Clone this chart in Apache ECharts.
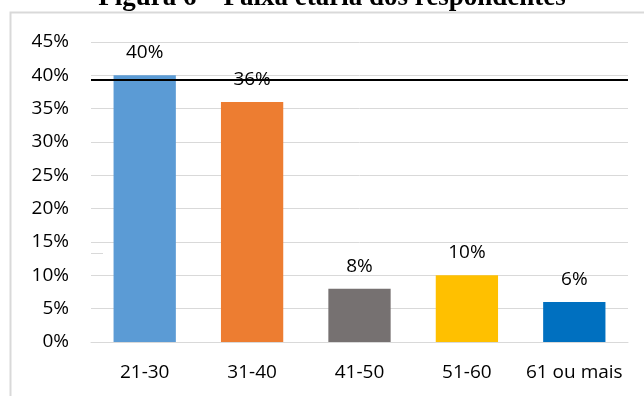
<!DOCTYPE html>
<html>
<head>
<meta charset="utf-8">
<script src="https://cdn.jsdelivr.net/npm/echarts@6/dist/echarts.min.js"></script>
<style>
  html, body { margin: 0; padding: 0; background: #fff; }
  #chart { width: 644px; height: 396px; }
</style>
</head>
<body>
<div id="chart"></div>
<script>
// faixas etarias e percentuais
const categories = ["21-30", "31-40", "41-50", "51-60", "61 ou mais"];
const values = [40, 36, 8, 10, 6];
const barColors = ["#5B9BD5", "#ED7D31", "#767171", "#FFC000", "#0070C0"];
const yTicks = [0, 5, 10, 15, 20, 25, 30, 35, 40, 45];
const refLine = 39.3; // linha preta sobre o grafico

const font = "'Open Sans', sans-serif";

const chart = echarts.init(document.getElementById("chart"));

chart.setOption({
  animation: false,
  title: {
    text: "Figura 6 – Faixa etária dos respondentes",
    left: 332,
    textAlign: "center",
    top: -15,
    padding: 0,
    textStyle: {
      fontFamily: "'Liberation Serif', serif",
      fontWeight: "bold",
      fontSize: 27,
      color: "#000"
    }
  },
  graphic: [
    {
      type: "rect",
      shape: { x: 10.5, y: 12.5, width: 640, height: 400 },
      style: { fill: null, stroke: "#d9d9d9", lineWidth: 2 },
      silent: true
    },
    {
      type: "line",
      shape: { x1: 91, y1: 253.5, x2: 103, y2: 253.5 },
      style: { stroke: "#d9d9d9", lineWidth: 1 },
      silent: true
    }
  ],
  grid: { left: 91, right: 16, top: 42, bottom: 54 },
  xAxis: {
    type: "category",
    data: categories,
    axisLine: { lineStyle: { color: "#d9d9d9", width: 1 } },
    axisTick: { show: false },
    axisLabel: { interval: 0, color: "#000", fontFamily: font, fontSize: 19, margin: 21 }
  },
  yAxis: {
    type: "value",
    min: yTicks[0],
    max: yTicks[yTicks.length - 1],
    interval: 5,
    axisLine: { show: false },
    axisTick: { show: false },
    splitLine: { lineStyle: { color: "#d9d9d9", width: 1 } },
    axisLabel: {
      color: "#000",
      fontFamily: font,
      fontSize: 19,
      margin: 22,
      formatter: v => v + "%"
    }
  },
  series: [
    {
      type: "bar",
      data: values.map((v, i) => ({ value: v, itemStyle: { color: barColors[i] } })),
      barWidth: "58%",
      label: {
        show: true,
        position: "top",
        distance: 13,
        color: "#000",
        fontFamily: font,
        fontSize: 19,
        formatter: p => p.value + "%"
      },
      markLine: {
        silent: true,
        symbol: "none",
        label: { show: false },
        lineStyle: { color: "#000", width: 2, type: "solid" },
        data: [{ yAxis: refLine }],
        z: 10
      }
    }
  ]
});
</script>
</body>
</html>
